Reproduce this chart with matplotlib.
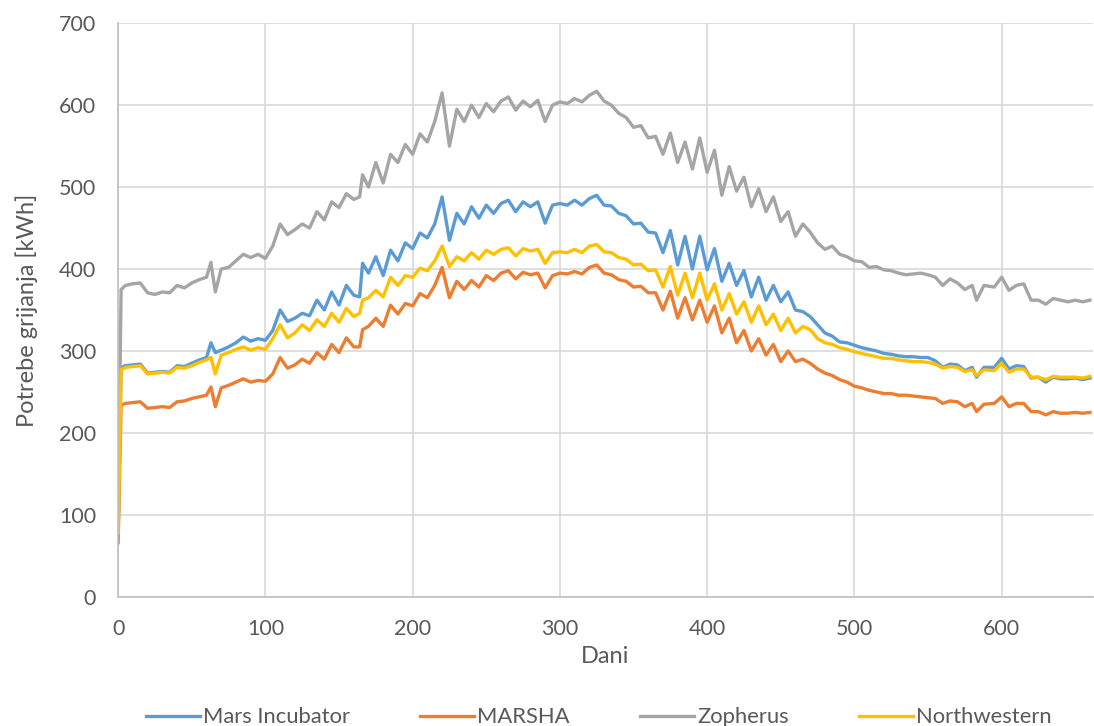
import matplotlib
matplotlib.use("Agg")
import matplotlib.pyplot as plt

days = [0, 2, 5, 10, 15, 20, 25, 30, 35, 40, 45, 50, 55, 60, 63, 66,
        70, 75, 80, 85, 90, 95, 100, 105, 110, 115, 120, 125, 130, 135, 140, 145, 150, 155, 160,
        164, 166,
        170, 175, 180, 185, 190, 195, 200, 205, 210, 215, 220, 225, 230, 235, 240, 245, 250, 255,
        260, 265, 270, 275, 280, 285, 290, 295, 300, 305, 310, 315, 320, 325, 330, 335, 340, 345,
        350, 355, 360, 365, 370, 375, 380, 385, 390, 395, 400, 405, 410, 415, 420, 425, 430, 435,
        440, 445, 450, 455, 460, 465, 470, 475, 480, 485, 490, 495, 500, 505, 510, 515, 520, 525,
        530, 535, 540, 545, 550, 555, 560, 565, 570, 575, 580,
        583, 588, 595,
        600, 605, 610, 615, 620, 625, 630, 635, 640, 645, 650, 655, 660]

mars_incubator = [78, 280, 282, 283, 284, 273, 274, 275, 274, 282, 281, 285, 289, 292, 310, 298,
                  301, 305, 310, 317, 312, 315, 313, 325, 350, 336, 340, 346, 343, 362, 350, 372, 356, 380, 368,
                  366, 407,
                  395, 415, 392, 423, 410, 432, 425, 444, 438, 455, 488, 435, 468, 455, 476, 462, 478, 468,
                  480, 484, 470, 482, 476, 482, 456, 478, 480, 478, 484, 478, 486, 490, 478, 477, 468, 465,
                  455, 456, 445, 444, 420, 447, 405, 440, 400, 440, 399, 425, 385, 407, 380, 398, 366, 390,
                  362, 380, 360, 372, 350, 348, 342, 332, 322, 318, 311, 310, 307, 304, 302, 300, 297, 296,
                  294, 293, 293, 292, 292, 288, 280, 284, 283, 276, 280,
                  268, 280, 280,
                  291, 278, 282, 281, 267, 268, 262, 268, 266, 266, 267, 265, 267]

marsha = [66, 234, 236, 237, 238, 230, 231, 232, 231, 238, 239, 242, 244, 246, 256, 232,
          255, 258, 262, 266, 262, 264, 263, 272, 292, 279, 283, 290, 285, 298, 290, 308, 298, 316, 305,
          305, 326,
          330, 340, 330, 356, 345, 358, 355, 370, 365, 380, 402, 365, 385, 375, 386, 378, 392, 386,
          395, 398, 388, 396, 393, 395, 377, 392, 395, 394, 397, 394, 402, 405, 395, 393, 387, 385,
          378, 379, 371, 371, 350, 373, 340, 365, 338, 362, 335, 355, 322, 340, 310, 325, 300, 315,
          295, 308, 287, 300, 287, 290, 285, 278, 273, 270, 265, 262, 257, 255, 252, 250, 248, 248,
          246, 246, 245, 244, 243, 242, 236, 239, 238, 232, 236,
          226, 235, 236,
          244, 232, 236, 236, 226, 226, 222, 226, 224, 224, 225, 224, 225]

zopherus = [90, 375, 380, 382, 383, 371, 369, 372, 371, 380, 377, 383, 387, 390, 408, 372,
            400, 402, 410, 418, 414, 418, 413, 428, 455, 442, 448, 455, 450, 470, 460, 482, 475, 492, 485,
            488, 515,
            500, 530, 505, 540, 530, 552, 540, 565, 555, 580, 615, 550, 595, 580, 600, 585, 602, 592,
            605, 610, 594, 605, 598, 606, 580, 600, 604, 602, 608, 604, 612, 617, 605, 600, 590, 585,
            573, 575, 560, 562, 540, 566, 530, 555, 522, 560, 518, 545, 490, 525, 495, 512, 476, 498,
            470, 488, 458, 470, 440, 455, 445, 432, 424, 428, 418, 415, 410, 409, 402, 403, 399, 398,
            395, 393, 394, 395, 393, 390, 380, 388, 383, 375, 380,
            362, 380, 378,
            390, 374, 380, 382, 362, 362, 357, 364, 362, 360, 362, 360, 362]

northwestern = [78, 277, 280, 281, 282, 272, 273, 274, 273, 280, 279, 282, 286, 289, 292, 272,
                295, 298, 302, 305, 301, 304, 302, 315, 332, 316, 322, 332, 325, 338, 330, 346, 335, 352, 342,
                346, 362,
                365, 374, 366, 390, 380, 392, 390, 401, 398, 410, 428, 403, 415, 410, 420, 412, 423, 418,
                424, 426, 416, 425, 422, 424, 407, 420, 421, 420, 424, 420, 428, 430, 421, 420, 414, 412,
                405, 406, 398, 399, 378, 403, 368, 395, 365, 395, 362, 382, 350, 370, 345, 360, 335, 355,
                332, 345, 325, 340, 322, 330, 326, 315, 310, 308, 304, 302, 299, 297, 295, 293, 291, 291,
                289, 288, 287, 287, 286, 284, 279, 281, 280, 275, 277,
                270, 277, 276,
                285, 274, 278, 278, 268, 268, 265, 269, 268, 268, 268, 267, 269]

series = [
    ("Mars Incubator", mars_incubator, "#5B9BD5"),
    ("MARSHA", marsha, "#ED7D31"),
    ("Zopherus", zopherus, "#A5A5A5"),
    ("Northwestern", northwestern, "#FFC000"),
]

plt.rcParams['font.family'] = ['Lato', 'DejaVu Sans']
text_color = '#595959'

fig = plt.figure(figsize=(10.94, 7.26), dpi=100)
ax = fig.add_axes([0.108, 0.178, 0.891, 0.790])

for name, vals, color in series:
    ax.plot(days, vals, color=color, linewidth=2.4, label=name, solid_joinstyle='round')

ax.set_xlim(0, 662)
ax.set_ylim(0, 700)
ax.set_xticks(range(0, 601, 100))
ax.set_yticks(range(0, 701, 100))
ax.grid(True, color='#d9d9d9', linewidth=1.2)
ax.set_axisbelow(True)
for side in ['top', 'right']:
    ax.spines[side].set_visible(False)
for side in ['left', 'bottom']:
    ax.spines[side].set_color('#bfbfbf')
    ax.spines[side].set_linewidth(1.2)
ax.tick_params(length=0, labelsize=15.5, colors=text_color, pad=16)

ax.set_xlabel('Dani', fontsize=17, color=text_color, labelpad=5)
ax.set_ylabel('Potrebe grijanja [kWh]', fontsize=17, color=text_color, labelpad=15)

fig.legend(loc='center', bbox_to_anchor=(0.5475, 0.012), ncol=4, frameon=False,
           fontsize=15.8, handlelength=2.45, columnspacing=3.2, handletextpad=0.15,
           labelcolor=text_color)

plt.savefig('out.png', dpi=100)
